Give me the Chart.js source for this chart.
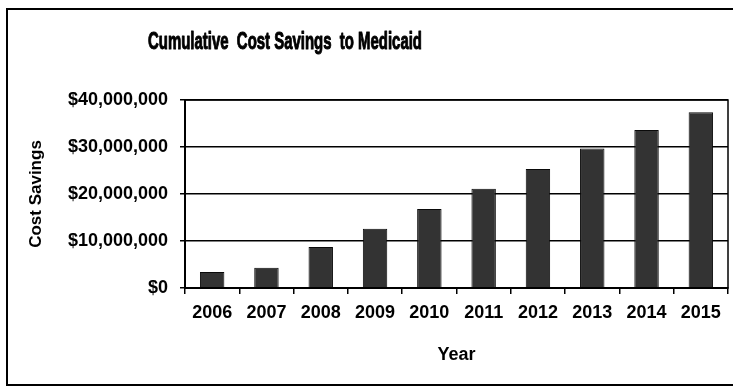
<!DOCTYPE html>
<html>
<head>
<meta charset="utf-8">
<script src="https://cdn.jsdelivr.net/npm/chart.js@4/dist/chart.umd.min.js"></script>
<style>
  html, body { margin: 0; padding: 0; background: #ffffff; }
  #wrap { position: relative; width: 733px; height: 388px; }
  canvas { display: block; }
</style>
</head>
<body>
<div id="wrap"><canvas id="c" width="733" height="388"></canvas></div>
<script>
const chartTitle = "Cumulative  Cost Savings  to Medicaid";
const years = ["2006", "2007", "2008", "2009", "2010", "2011", "2012", "2013", "2014", "2015"];
const costSavings = [3400000, 4300000, 8700000, 12600000, 16800000, 21100000, 25300000, 29700000, 33600000, 37400000];
const yTickValues = [0, 10000000, 20000000, 30000000, 40000000];
const xAxisTitle = "Year";
const yAxisTitle = "Cost Savings";

const FONT = "'Liberation Sans', Arial, Helvetica, sans-serif";

const framePlugin = {
  id: 'frame',
  beforeDraw(chart) {
    const ctx = chart.ctx;
    ctx.save();
    ctx.fillStyle = '#ffffff';
    ctx.fillRect(0, 0, chart.width, chart.height);
    ctx.strokeStyle = '#000000';
    ctx.lineWidth = 2;
    ctx.strokeRect(7, 9, 740, 376);
    ctx.restore();
  },
  afterDraw(chart) {
    const ctx = chart.ctx;
    const a = chart.chartArea;
    ctx.save();
    ctx.strokeStyle = '#000000';
    ctx.lineWidth = 1.5;
    ctx.strokeRect(a.left, a.top, a.right - a.left, a.bottom - a.top);
    // chart title (condensed, heavy like the original)
    ctx.fillStyle = '#000000';
    ctx.font = "bold 23px " + FONT;
    ctx.textAlign = 'center';
    ctx.textBaseline = 'middle';
    const w = ctx.measureText(chartTitle).width;
    const sx = 274 / w;
    ctx.translate(285, 43);
    ctx.scale(sx, 1);
    ctx.lineWidth = 1.0;
    ctx.lineJoin = 'round';
    ctx.strokeStyle = '#000000';
    ctx.strokeText(chartTitle, 0, 0);
    ctx.fillText(chartTitle, 0, 0);
    ctx.restore();
  }
};

new Chart(document.getElementById('c'), {
  type: 'bar',
  data: {
    labels: years,
    datasets: [{
      label: yAxisTitle,
      data: costSavings,
      backgroundColor: '#333333',
      borderColor: '#0a0a0a',
      borderWidth: 1,
      barPercentage: 0.45,
      categoryPercentage: 1.0
    }]
  },
  options: {
    responsive: false,
    animation: false,
    devicePixelRatio: 1,
    layout: { padding: { left: 0, right: 5, top: 100, bottom: 0 } },
    plugins: {
      legend: { display: false },
      title: { display: false },
      tooltip: { enabled: false }
    },
    scales: {
      x: {
        grid: {
          offset: true,
          drawOnChartArea: false,
          drawTicks: true,
          tickLength: 6,
          color: '#000000',
          lineWidth: 1.5
        },
        border: { display: true, color: '#000000', width: 2 },
        ticks: {
          color: '#000000',
          padding: 8,
          maxRotation: 0,
          font: { family: FONT, size: 18, weight: 'bold' }
        },
        title: {
          display: true,
          text: xAxisTitle,
          color: '#000000',
          padding: { top: 0, bottom: 22 },
          font: { family: FONT, size: 18, weight: 'bold' }
        },
        afterFit(scale) { scale.height = 100; }
      },
      y: {
        min: 0,
        max: 40000000,
        afterBuildTicks(scale) { scale.ticks = yTickValues.map(v => ({ value: v })); },
        grid: {
          drawTicks: true,
          tickLength: 5,
          color: '#000000',
          lineWidth: 1.5
        },
        border: { display: true, color: '#000000', width: 2 },
        ticks: {
          color: '#000000',
          padding: 12,
          font: { family: FONT, size: 18, weight: 'bold' },
          callback(v) { return '$' + Number(v).toLocaleString('en-US'); }
        },
        title: {
          display: true,
          text: yAxisTitle,
          color: '#000000',
          padding: { top: 26, bottom: 0 },
          font: { family: FONT, size: 17, weight: 'bold' }
        },
        afterFit(scale) { scale.width = 185; }
      }
    }
  },
  plugins: [framePlugin]
});
</script>
</body>
</html>
